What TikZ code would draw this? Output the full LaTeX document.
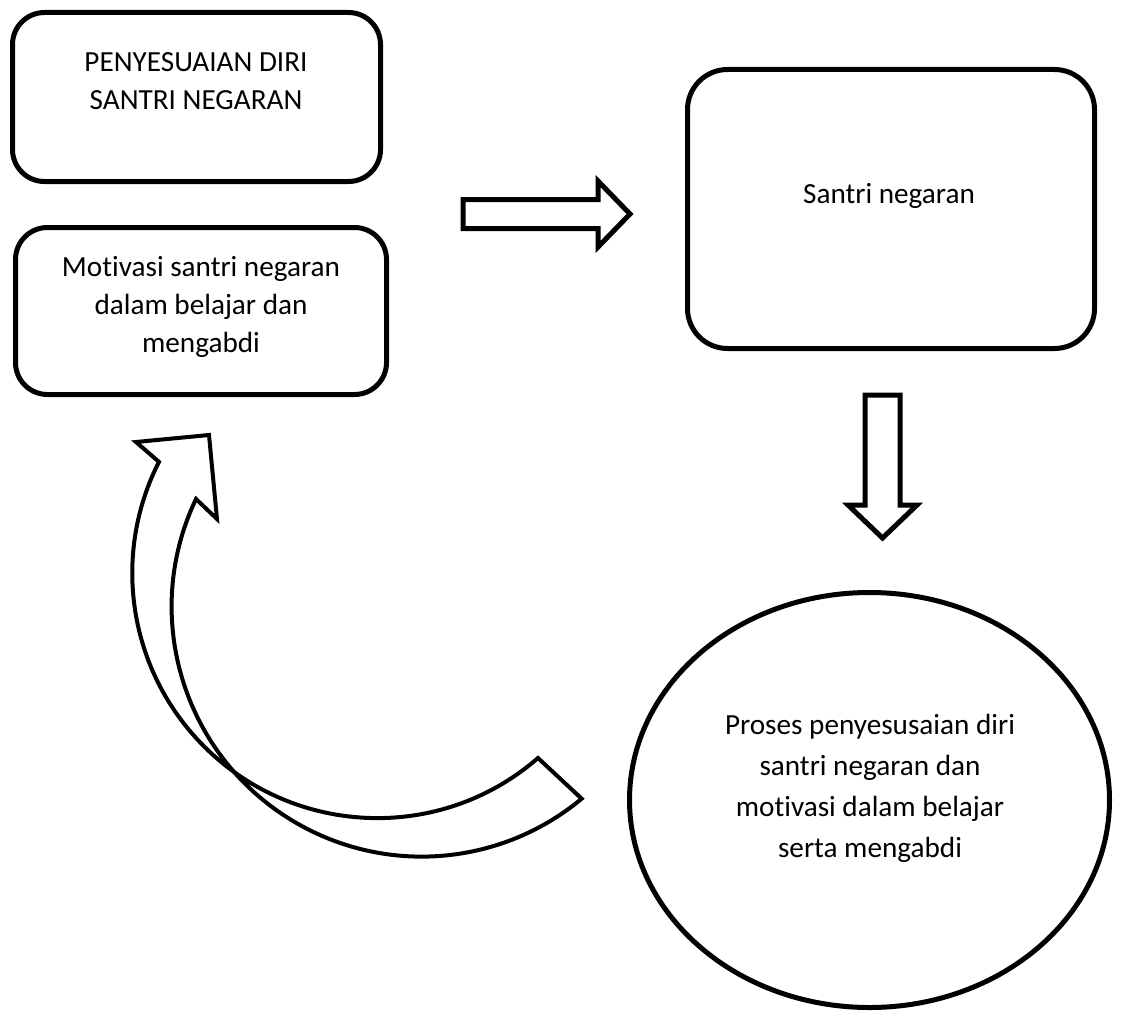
\documentclass[tikz,border=0pt]{standalone}
\usepackage{fontspec}
\setmainfont[Ligatures=NoCommon]{Carlito}
\usetikzlibrary{positioning, shapes.geometric}

\begin{document}
\begin{tikzpicture}[x=0.5pt, y=-0.5pt,
  box/.style={draw=black, line width=2.5pt, rounded corners=16pt, inner sep=0pt},
  blob/.style={ellipse, draw=black, line width=2.5pt, inner sep=0pt},
  txt/.style={align=center, anchor=base, inner sep=0pt, font=\fontsize{14.6}{19}\selectfont},
  blockarrow/.style={draw=black, line width=2.5pt, fill=white, line join=miter}]

\useasboundingbox (0,0) rectangle (1129,1011);

% --- left boxes ---
\node[box, minimum width=184pt, minimum height=84.5pt] (judul) at (196.5,97) {};
\node[txt] (judulteks) at (196,110) {PENYESUAIAN DIRI\\SANTRI NEGARAN};

\node[box, minimum width=185.5pt, minimum height=83.5pt] (motivasi) at (201,311) {};
\node[txt] (motivasiteks) at (201,352) {Motivasi santri negaran\\dalam belajar dan\\mengabdi};

% --- right box ---
\node[box, rounded corners=20pt, minimum width=203.5pt, minimum height=139.5pt] (santri) at (891,209) {};
\node[txt] (santriteks) at (889,203) {Santri negaran};

% --- ellipse ---
\node[blob, minimum width=240pt, minimum height=207.5pt] (proses) at (869.5,800) {};
\node[txt, font=\fontsize{14.6}{20.5}\selectfont] (prosesteks) at (870,857)
  {Proses penyesusaian diri\\santri negaran dan\\motivasi dalam belajar\\serta mengabdi};

% --- block arrows ---
\draw[blockarrow] (463,199.5) -- (598,199.5) -- (598,181) -- (630,214)
  -- (598,247) -- (598,228.5) -- (463,228.5) -- cycle;
\draw[blockarrow] (865,395) -- (900,395) -- (900,505) -- (917,505)
  -- (882.5,538) -- (848,505) -- (865,505) -- cycle;

% --- curved arrow back to the left ---
\draw[blockarrow, line width=2pt] (209,435) -- (217,519) -- (196,499)
  arc[start angle=205.5, end angle=50.2, radius=250] -- (538,758)
  arc[start angle=49, end angle=207, radius=245] -- (136,442) -- cycle;

\end{tikzpicture}
\end{document}
